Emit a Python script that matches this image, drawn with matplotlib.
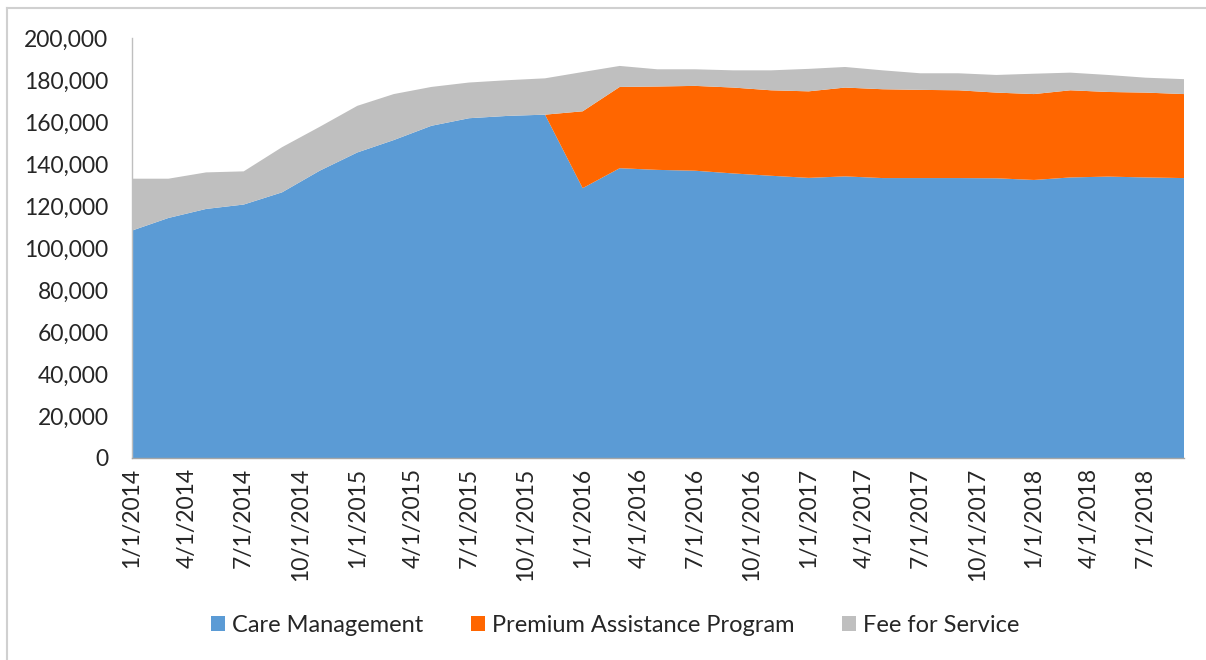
import pandas as pd
import matplotlib
matplotlib.use("Agg")
import matplotlib.pyplot as plt
import matplotlib.dates as mdates
from matplotlib.lines import Line2D
from matplotlib.ticker import FuncFormatter, MultipleLocator

# bi-monthly enrolment, Jan 2014 .. Sep 2018
dates = pd.date_range("2014-01-01", "2018-09-01", freq="2MS")

care_management = [108300, 114300, 118600, 120700, 126500, 136800, 145500, 151400,
                   158200, 161800, 162900, 163500, 128500, 138000, 137200, 136800,
                   135500, 134400, 133400, 134100, 133300, 133300, 133300, 133200,
                   132400, 133600, 134000, 133600, 133300]
premium_assistance = [0, 0, 0, 0, 0, 0, 0, 0,
                      0, 0, 0, 0, 36600, 38700, 39700, 40400,
                      40900, 40700, 41200, 42300, 42300, 42000, 41800, 40800,
                      40900, 41500, 40300, 40400, 40000]
fee_for_service = [24700, 18700, 17400, 15800, 21500, 20900, 22200, 21900,
                   18500, 17000, 17000, 17300, 18700, 10000, 8200, 7900,
                   8200, 9500, 10700, 9800, 9000, 7900, 8100, 8400,
                   9700, 8400, 8100, 7100, 7100]

labels = ["Care Management", "Premium Assistance Program", "Fee for Service"]
colors = ["#5B9BD5", "#FF6600", "#BFBFBF"]

plt.rcParams['font.family'] = ['Lato', 'DejaVu Sans']

fig = plt.figure(figsize=(12.06, 6.6), dpi=100)
ax = fig.add_axes([132 / 1206, (660 - 458) / 660, (1184 - 132) / 1206, 420 / 660])

ax.stackplot(dates, care_management, premium_assistance, fee_for_service,
             labels=labels, colors=colors, linewidth=0)

ax.set_xlim(dates[0], dates[-1])
ax.set_ylim(0, 200000)
ax.yaxis.set_major_locator(MultipleLocator(20000))
ax.yaxis.set_major_formatter(FuncFormatter(lambda v, p: f"{int(v):,}"))

ax.xaxis.set_major_locator(mdates.MonthLocator(bymonth=[1, 4, 7, 10]))
ax.xaxis.set_major_formatter(FuncFormatter(
    lambda v, p: "{d.month}/{d.day}/{d.year}".format(d=mdates.num2date(v))))

ax.tick_params(axis="y", length=0, pad=17, labelsize=16.5, labelcolor="#262626")
ax.tick_params(axis="x", length=0, pad=7, labelsize=16.5, labelcolor="#262626",
               labelrotation=90)

for s in ["top", "right"]:
    ax.spines[s].set_visible(False)
ax.spines["left"].set_color("#BFBFBF")
ax.spines["bottom"].set_color("#A6A6A6")
ax.spines["left"].set_linewidth(1.0)
ax.spines["bottom"].set_linewidth(1.0)

leg = fig.legend(loc="center", bbox_to_anchor=(615 / 1206, 1 - 625 / 660), ncol=3,
                 frameon=False, fontsize=17, handlelength=0.6, handleheight=0.6,
                 handletextpad=0.3, columnspacing=2.0)
for t in leg.get_texts():
    t.set_color("#262626")

# light frame of the original screenshot
fig.add_artist(Line2D([7 / 1206, 7 / 1206], [0, 1 - 8 / 660], transform=fig.transFigure,
                      color="#D0D0D0", linewidth=1.5))
fig.add_artist(Line2D([7 / 1206, 1], [1 - 8 / 660, 1 - 8 / 660], transform=fig.transFigure,
                      color="#D0D0D0", linewidth=1.5))

fig.savefig("out.png", dpi=100)
